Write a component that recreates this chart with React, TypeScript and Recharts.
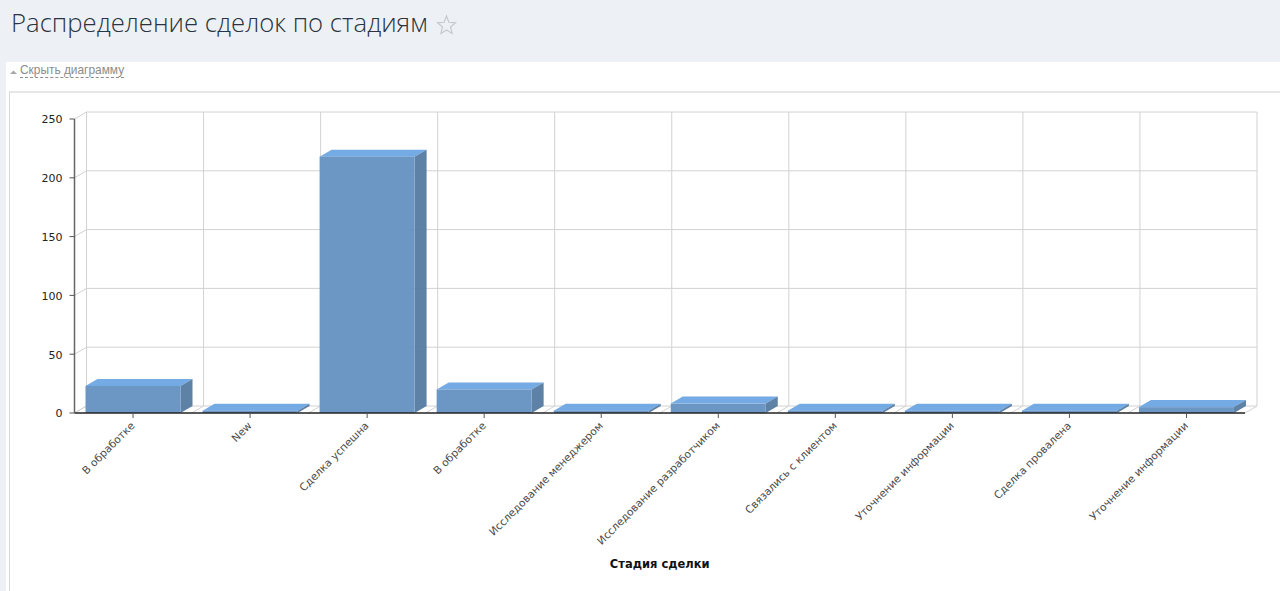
import { Bar, BarChart, CartesianGrid, XAxis, YAxis } from 'recharts';

const stages = [
  'В обработке',
  'New',
  'Сделка успешна',
  'В обработке',
  'Исследование менеджером',
  'Исследование разработчиком',
  'Связались с клиентом',
  'Уточнение информации',
  'Сделка провалена',
  'Уточнение информации',
];
const deals = [23, 2, 218, 20, 2, 8, 2, 2, 2, 5];
const yTicks = [0, 50, 100, 150, 200, 250];

const chartData = stages.map((stage, i) => ({ id: i, stage, deals: deals[i] }));

const DEPTH_X = 12;
const DEPTH_Y = 7;
const GRID = '#d2d2d2';

function Bar3D({ x, y, width, height }: any) {
  const r = x + width;
  const b = y + height;
  return (
    <g opacity={0.96}>
      <polygon
        points={`${x},${y} ${x + DEPTH_X},${y - DEPTH_Y} ${r + DEPTH_X},${y - DEPTH_Y} ${r},${y}`}
        fill="#6fa8e4"
      />
      <polygon
        points={`${r},${y} ${r + DEPTH_X},${y - DEPTH_Y} ${r + DEPTH_X},${b - DEPTH_Y} ${r},${b}`}
        fill="#587da3"
      />
      <rect x={x} y={y} width={width} height={height} fill="#6793c3" />
    </g>
  );
}

function GridH({ x1, y1, x2, y2 }: any) {
  return (
    <g>
      <line x1={x1} y1={y1} x2={x1 + DEPTH_X} y2={y1 - DEPTH_Y} stroke={GRID} />
      <line x1={x1 + DEPTH_X} y1={y1 - DEPTH_Y} x2={x2 + DEPTH_X} y2={y2 - DEPTH_Y} stroke={GRID} />
    </g>
  );
}

function GridV({ x1, y1, y2 }: any) {
  const top = Math.min(y1, y2);
  const bottom = Math.max(y1, y2);
  return (
    <g>
      <line x1={x1} y1={bottom} x2={x1 + DEPTH_X} y2={bottom - DEPTH_Y} stroke={GRID} />
      <line x1={x1 + DEPTH_X} y1={top - DEPTH_Y} x2={x1 + DEPTH_X} y2={bottom - DEPTH_Y} stroke={GRID} />
    </g>
  );
}

export default function App() {
  return (
    <div style={{ position: 'fixed', left: 0, top: 0, width: 1280, height: 591, overflow: 'hidden', background: '#edf1f5' }}>
      <div style={{ position: 'absolute', left: 11, top: 5, fontFamily: '"Open Sans"', fontWeight: 300, fontSize: 25.7, lineHeight: '36px', color: '#2b3440', whiteSpace: 'nowrap' }}>
        Распределение сделок по стадиям
      </div>
      <svg width={22} height={22} style={{ position: 'absolute', left: 436, top: 14 }}>
        <polygon
          points="10.5,2 12.9,8.3 19.5,8.8 14.5,13 16.1,19.4 10.5,16 4.9,19.4 6.5,13 1.5,8.8 8.1,8.3"
          fill="none"
          stroke="#c4cad0"
          strokeWidth={1.2}
        />
      </svg>
      <div style={{ position: 'absolute', left: 6, top: 62, width: 1274, height: 529, background: '#fff' }} />
      <div style={{ position: 'absolute', left: 20, top: 63, fontFamily: '"Liberation Sans"', fontSize: 11.9, lineHeight: '14px', color: '#8c8c8c', borderBottom: '1px dashed #8c8c8c', whiteSpace: 'nowrap' }}>
        Скрыть диаграмму
      </div>
      <svg width={8} height={5} style={{ position: 'absolute', left: 10, top: 70 }}>
        <polygon points="0,4 3.5,0.5 7,4" fill="#a8a8a8" />
      </svg>
      <div style={{ position: 'absolute', left: 9, top: 91, width: 1271, height: 500, borderLeft: '1px solid #d8d8d8', borderTop: '2px solid #e6e6e6', boxSizing: 'border-box' }} />
      <div style={{ position: 'absolute', left: 0, top: 1 }}>
        <BarChart
          width={1280}
          height={590}
          data={chartData}
          margin={{ top: 118, right: 35, bottom: 0, left: 0 }}
          barSize={95}
        >
          <CartesianGrid
            horizontal={(props: any) => <GridH key={props.key} {...props} />}
            vertical={(props: any) => <GridV key={props.key} {...props} />}
            verticalCoordinatesGenerator={({ offset }: any) =>
              stages.map((_, i) => offset.left + (offset.width * i) / stages.length).concat(offset.left + offset.width)
            }
          />
          <XAxis
            dataKey="id"
            height={178}
            interval={0}
            tickFormatter={(i: number) => stages[i]}
            angle={-45}
            textAnchor="end"
            tickSize={5}
            tickMargin={3}
            axisLine={{ stroke: '#222', strokeWidth: 1.5 }}
            tickLine={{ stroke: '#555' }}
            tick={{ fill: '#4a4a4a', fontSize: 10.6, fontFamily: '"DejaVu Sans"', dx: -3 }}
            label={{
              value: 'Стадия сделки',
              position: 'insideBottom',
              offset: 23,
              fill: '#111',
              fontSize: 11.5,
              fontWeight: 700,
              fontFamily: '"DejaVu Sans"',
            }}
          />
          <YAxis
            width={74.5}
            domain={[0, 250]}
            ticks={yTicks}
            interval={0}
            tickSize={5}
            tickMargin={7}
            axisLine={{ stroke: '#666', strokeWidth: 1.5 }}
            tickLine={{ stroke: '#555' }}
            tick={{ fill: '#222', fontSize: 11, fontFamily: '"DejaVu Sans"', dy: 0.5 }}
          />
          <Bar dataKey="deals" shape={<Bar3D />} isAnimationActive={false} />
        </BarChart>
      </div>
    </div>
  );
}
